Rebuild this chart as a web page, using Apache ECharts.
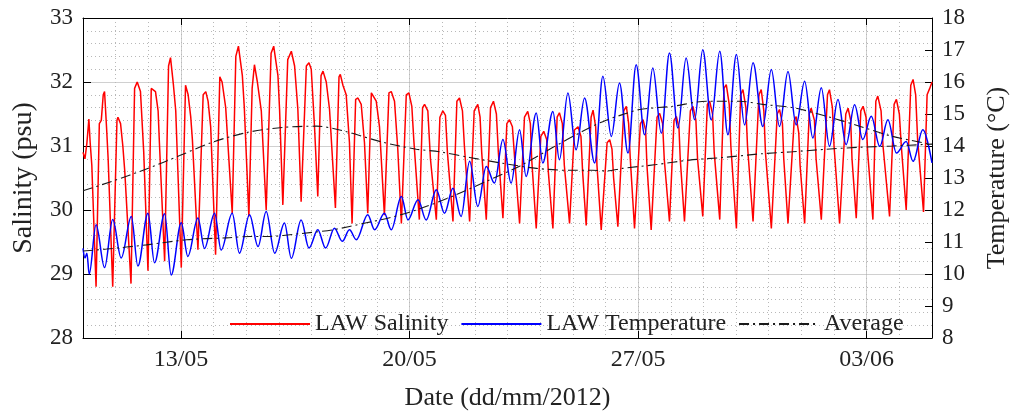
<!DOCTYPE html>
<html>
<head>
<meta charset="utf-8">
<title>LAW salinity and temperature</title>
<script src="https://cdn.jsdelivr.net/npm/echarts@6/dist/echarts.min.js"></script>
<style>
  html, body { margin: 0; padding: 0; background: #fff; }
  #chart { width: 1011px; height: 412px; }
</style>
</head>
<body>
<div id="chart"></div>
<script>
// Time axis is expressed in day-of-May 2012 (32 = 01/06).
const dayMin = 10;
const dayMax = 36;
const weekTickDays = [13, 20, 27, 34];

// LAW salinity (psu): time (day-of-May) and value at trough / rise / plateau / fall points
const salinityDay = [
  10.00,10.06,10.12,10.18,10.22,10.27,10.40,
  10.50,10.56,10.62,10.66,10.72,10.77,10.91,
  11.04,11.07,11.15,11.22,11.28,11.47,
  11.58,11.66,11.76,11.86,11.99,
  12.09,12.22,12.30,12.34,12.50,
  12.62,12.68,12.77,12.84,13.01,
  13.14,13.22,13.30,13.35,13.52,
  13.68,13.76,13.83,13.91,14.06,
  14.19,14.26,14.37,14.43,14.57,
  14.68,14.76,14.88,14.94,15.08,
  15.18,15.25,15.34,15.46,15.61,
  15.76,15.84,15.97,16.02,16.12,
  16.27,16.38,16.48,16.58,16.68,
  16.84,16.92,16.99,17.09,17.19,
  17.29,17.35,17.45,17.55,17.73,
  17.84,17.88,17.96,18.06,18.16,18.24,
  18.35,18.42,18.52,18.62,18.72,
  18.83,18.88,18.98,19.08,19.23,
  19.37,19.44,19.54,19.64,19.75,
  19.90,19.98,20.07,20.13,20.30,
  20.40,20.46,20.56,20.64,20.82,
  20.93,21.02,21.10,21.16,21.33,
  21.45,21.53,21.62,21.68,21.84,
  21.98,22.09,22.16,22.21,22.35,
  22.48,22.57,22.66,22.72,22.86,
  22.98,23.06,23.15,23.22,23.37,
  23.52,23.62,23.70,23.74,23.88,
  24.02,24.11,24.20,24.25,24.39,
  24.52,24.59,24.68,24.74,24.90,
  25.05,25.16,25.25,25.30,25.41,
  25.56,25.62,25.70,25.74,25.87,
  26.05,26.13,26.20,26.25,26.38,
  26.56,26.64,26.71,26.76,26.89,
  27.07,27.15,27.23,27.27,27.40,
  27.58,27.66,27.75,27.80,27.96,
  28.10,28.17,28.25,28.29,28.42,
  28.60,28.68,28.77,28.82,28.98,
  29.12,29.19,29.28,29.33,29.50,
  29.63,29.70,29.79,29.84,30.01,
  30.14,30.21,30.30,30.35,30.52,
  30.70,30.77,30.85,30.90,31.08,
  31.26,31.33,31.42,31.46,31.59,
  31.78,31.84,31.92,31.96,32.10,
  32.24,32.30,32.40,32.45,32.61,
  32.80,32.86,32.95,33.00,33.17,
  33.36,33.43,33.51,33.55,33.68,
  33.82,33.89,33.98,34.03,34.19,
  34.28,34.34,34.44,34.50,34.70,
  34.84,34.91,35.00,35.06,35.21,
  35.35,35.42,35.50,35.56,35.74,
  35.85,35.93,36.00
];
const salinityPsu = [
  30.90,30.80,31.05,31.42,31.05,30.70,28.80,
  31.35,31.40,31.80,31.85,31.30,30.80,28.80,
  31.40,31.45,31.35,31.00,30.60,28.85,
  31.90,32.00,31.85,30.90,29.05,
  31.90,31.85,31.55,31.05,29.20,
  32.25,32.38,31.95,31.55,29.10,
  31.95,31.80,31.45,31.10,29.38,
  31.80,31.85,31.70,31.30,29.30,
  32.08,32.00,31.60,31.10,29.95,
  32.40,32.56,32.10,31.60,29.90,
  31.90,32.27,32.00,31.55,30.00,
  32.45,32.56,32.10,31.57,30.08,
  32.35,32.48,32.25,31.57,30.13,
  32.25,32.30,32.20,31.30,30.21,
  32.10,32.17,32.00,31.57,30.03,
  32.08,32.12,31.95,31.80,31.05,29.79,
  31.73,31.75,31.65,31.05,29.95,
  31.83,31.85,31.70,31.30,29.92,
  31.83,31.85,31.70,30.95,29.79,
  31.80,31.83,31.62,31.10,29.85,
  31.60,31.65,31.55,30.80,29.85,
  31.45,31.55,31.48,30.90,29.82,
  31.70,31.75,31.55,31.00,29.82,
  31.55,31.65,31.45,30.90,29.85,
  31.60,31.70,31.50,30.90,29.87,
  31.35,31.41,31.30,30.80,29.79,
  31.45,31.54,31.35,30.80,29.71,
  31.15,31.23,31.10,30.60,29.71,
  31.45,31.52,31.35,30.70,29.79,
  31.25,31.30,31.15,30.60,29.76,
  31.45,31.56,31.30,30.70,29.69,
  31.05,31.10,30.95,30.50,29.74,
  31.55,31.62,31.35,30.80,29.71,
  31.35,31.41,31.25,30.70,29.69,
  31.45,31.51,31.35,30.80,29.82,
  31.40,31.46,31.30,30.80,29.82,
  31.55,31.62,31.40,30.80,29.90,
  31.65,31.70,31.50,30.90,29.85,
  31.90,31.96,31.65,31.00,29.71,
  31.80,31.88,31.60,31.00,29.82,
  31.80,31.88,31.55,30.90,29.71,
  31.50,31.57,31.35,30.80,29.79,
  31.40,31.46,31.20,30.70,29.79,
  31.50,31.59,31.40,30.80,29.85,
  31.80,31.88,31.60,31.00,29.79,
  31.50,31.59,31.40,30.80,29.87,
  31.55,31.62,31.45,30.90,29.85,
  31.70,31.78,31.55,31.00,29.90,
  31.65,31.73,31.50,31.00,30.00,
  31.95,32.04,31.80,31.10,29.97,
  31.80,31.90,32.00
];

// LAW temperature (°C): peaks and troughs
const temperatureDay = [
  10.00,10.06,10.12,10.19,10.40,10.66,10.91,11.17,11.48,11.68,11.99,12.19,12.50,12.70,
  13.01,13.21,13.52,13.72,14.03,14.23,14.57,14.79,15.10,
  15.36,15.61,15.87,16.17,16.38,16.68,16.92,17.19,17.43,17.70,17.94,18.16,18.37,
  18.72,18.93,19.23,19.44,19.75,19.95,20.26,
  20.51,20.82,21.07,21.33,21.58,21.84,22.09,22.35,22.60,22.86,23.11,23.37,23.57,
  23.88,24.08,24.39,24.59,24.85,25.10,25.36,
  25.67,25.92,26.18,26.43,26.69,26.94,27.20,27.45,27.71,27.96,28.22,28.47,28.73,
  28.98,29.24,29.50,29.75,30.01,30.26,30.52,
  30.82,31.08,31.33,31.59,31.84,32.10,32.35,32.61,32.86,33.12,33.37,33.63,33.88,
  34.14,34.40,34.65,34.91,35.21,35.42,35.72,36.00
];
const temperatureC = [
  10.80,10.50,10.65,10.00,11.54,10.20,11.70,10.50,11.80,10.25,11.90,10.35,11.88,9.97,
  11.60,10.55,11.75,10.80,11.90,10.75,11.90,10.65,11.85,
  10.86,11.95,10.65,11.59,10.49,11.69,10.81,11.38,10.81,11.43,11.02,11.38,11.07,
  11.85,11.38,11.90,11.38,12.42,11.69,12.32,
  11.69,12.63,11.90,12.68,11.80,13.52,12.11,13.36,12.84,14.20,12.84,14.51,13.05,
  15.03,13.47,15.08,13.57,15.66,13.88,15.50,
  13.47,16.18,14.30,15.97,13.78,16.54,14.35,16.44,14.40,16.91,14.56,16.75,14.82,
  17.01,14.82,16.96,14.35,16.86,14.66,16.60,
  14.61,16.39,14.61,16.33,14.66,16.02,14.25,15.82,13.99,15.45,14.04,15.29,14.20,
  14.93,13.99,14.82,13.78,14.14,13.52,14.51,13.47
];

// Tidally averaged salinity (psu)
const salinityAvgDay = [10.0,10.9,11.94,12.96,13.97,15.01,16.11,17.15,17.95,19.17,20.21,20.92,21.84,22.85,
  23.89,24.90,25.60,26.03,26.52,27.56,28.57,29.58,30.81,31.73,32.77,33.78,34.79,36.0];
const salinityAvg = [30.30,30.45,30.64,30.85,31.06,31.21,31.29,31.31,31.24,31.06,30.95,30.91,30.82,30.73,
  30.65,30.62,30.62,30.61,30.65,30.71,30.78,30.82,30.88,30.91,30.95,30.98,31.00,31.03];

// Tidally averaged temperature (°C)
const temperatureAvgDay = [10.0,10.72,11.94,13.17,14.40,15.10,15.62,16.63,17.64,18.68,19.39,20.21,21.32,22.36,
  23.37,24.38,25.30,26.00,26.52,27.04,28.05,29.09,30.10,30.81,31.73,32.77,33.78,34.79,36.0];
const temperatureAvg = [10.72,10.78,10.91,11.07,11.13,11.17,11.17,11.26,11.38,11.60,11.76,12.00,12.43,12.90,
  13.37,13.95,14.46,14.80,14.98,15.14,15.24,15.40,15.40,15.30,15.20,14.93,14.62,14.30,14.05];

const zip = (xs, ys) => xs.map((x, i) => [x, ys[i]]);
const pad2 = n => (n < 10 ? '0' : '') + n;
const dayLabel = d => d <= 31 ? pad2(d) + '/05' : pad2(d - 31) + '/06';

const FONT = 'Liberation Serif';
const TEXT = '#222';
const gridMajor = { color: '#d0d0d0', width: 1 };
const gridMinor = { color: '#b8b8b8', width: 1, type: [1, 3] };
const avgStyle = { color: '#1a1a1a', width: 1.1, type: [10, 4, 2, 4] };

const chart = echarts.init(document.getElementById('chart'), null, { renderer: 'canvas' });
chart.setOption({
  animation: false,
  backgroundColor: '#fff',
  grid: { left: 83, right: 79, top: 18, bottom: 74, containLabel: false, outerBoundsMode: 'none' },
  legend: {
    orient: 'horizontal',
    left: 224, top: 307, width: 720,
    itemWidth: 80, itemHeight: 14, itemGap: 12,
    itemStyle: { color: 'rgba(0,0,0,0)', borderWidth: 0 },
    textStyle: { fontFamily: FONT, fontSize: 24, color: TEXT },
    data: ['LAW Salinity', 'LAW Temperature', 'Average']
  },
  xAxis: [
    {
      type: 'value', min: dayMin, max: dayMax, position: 'bottom',
      axisLine: { show: true, onZero: false, lineStyle: { color: '#000', width: 1 } },
      axisTick: { show: true, inside: true, length: 7, customValues: weekTickDays, lineStyle: { color: '#000' } },
      axisLabel: { customValues: weekTickDays, formatter: v => dayLabel(v), fontFamily: FONT, fontSize: 24, color: TEXT, margin: 10 },
      splitLine: { show: true, lineStyle: gridMajor },
      name: 'Date (dd/mm/2012)', nameLocation: 'middle', nameGap: 47,
      nameTextStyle: { fontFamily: FONT, fontSize: 26, color: TEXT }
    },
    {
      type: 'value', min: dayMin, max: dayMax, position: 'top',
      axisLine: { show: true, onZero: false, lineStyle: { color: '#000', width: 1 } },
      axisTick: { show: true, inside: true, length: 7, customValues: weekTickDays, lineStyle: { color: '#000' } },
      axisLabel: { show: false },
      splitLine: { show: false }
    },
    {
      type: 'value', min: dayMin, max: dayMax, interval: 1, position: 'bottom',
      axisLine: { show: false }, axisTick: { show: false }, axisLabel: { show: false },
      splitLine: { show: true, lineStyle: gridMinor }
    }
  ],
  yAxis: [
    {
      type: 'value', min: 28, max: 33, interval: 1, position: 'left',
      axisLine: { show: true, lineStyle: { color: '#000', width: 1 } },
      axisTick: { show: true, inside: true, length: 8, lineStyle: { color: '#000' } },
      axisLabel: { fontFamily: FONT, fontSize: 23, color: TEXT, margin: 10 },
      splitLine: { show: true, lineStyle: gridMajor },
      minorTick: { show: false, splitNumber: 5 },
      minorSplitLine: { show: true, lineStyle: gridMinor },
      name: 'Salinity (psu)', nameLocation: 'middle', nameGap: 45, nameRotate: 90,
      nameTextStyle: { fontFamily: FONT, fontSize: 28, color: TEXT }
    },
    {
      type: 'value', min: 8, max: 18, interval: 1, position: 'right',
      axisLine: { show: true, lineStyle: { color: '#000', width: 1 } },
      axisTick: { show: true, inside: true, length: 7, lineStyle: { color: '#000' } },
      axisLabel: { fontFamily: FONT, fontSize: 23, color: TEXT, margin: 10 },
      splitLine: { show: false },
      name: 'Temperature (°C)', nameLocation: 'middle', nameGap: 52, nameRotate: 90,
      nameTextStyle: { fontFamily: FONT, fontSize: 26, color: TEXT }
    }
  ],
  series: [
    {
      name: 'LAW Salinity', type: 'line', xAxisIndex: 0, yAxisIndex: 0,
      data: zip(salinityDay, salinityPsu), symbol: 'none', showSymbol: false,
      lineStyle: { color: '#ff0000', width: 1.5 }, itemStyle: { color: '#ff0000' }
    },
    {
      name: 'LAW Temperature', type: 'line', xAxisIndex: 0, yAxisIndex: 1,
      data: zip(temperatureDay, temperatureC), symbol: 'none', showSymbol: false,
      smooth: 0.35, smoothMonotone: 'x',
      lineStyle: { color: '#0000ff', width: 1.5 }, itemStyle: { color: '#0000ff' }
    },
    {
      name: 'Average', type: 'line', xAxisIndex: 0, yAxisIndex: 0,
      data: zip(salinityAvgDay, salinityAvg), symbol: 'none', showSymbol: false, smooth: 0.3,
      lineStyle: avgStyle, itemStyle: { color: '#1a1a1a' }
    },
    {
      name: 'Average', type: 'line', xAxisIndex: 0, yAxisIndex: 1,
      data: zip(temperatureAvgDay, temperatureAvg), symbol: 'none', showSymbol: false, smooth: 0.3,
      lineStyle: avgStyle, itemStyle: { color: '#1a1a1a' }
    }
  ]
});
</script>
</body>
</html>
